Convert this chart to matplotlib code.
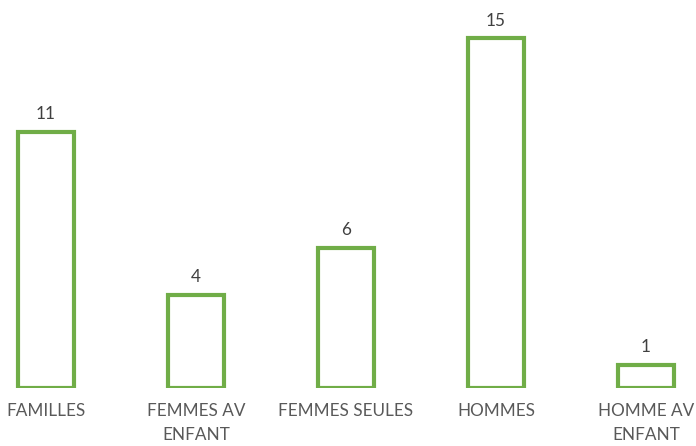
import matplotlib.pyplot as plt

categories = ['FAMILLES', 'FEMMES AV\nENFANT', 'FEMMES SEULES', 'HOMMES', 'HOMME AV\nENFANT']
counts = [11, 4, 6, 15, 1]

plt.rcParams['font.family'] = ['Lato', 'DejaVu Sans']

fig = plt.figure(figsize=(6.96, 4.46), dpi=100)
ax = fig.add_axes([0, 58 / 446, 1, 388 / 446])

x = list(range(len(categories)))
bars = ax.bar(x, counts, width=0.373, facecolor='white', edgecolor='#70AD47', linewidth=3)
ax.bar_label(bars, padding=7, fontsize=12.3, color='#404040')

ax.set_xlim(-0.307, 4.333)
ax.set_ylim(0, 16.65)
ax.set_xticks(x)
ax.set_xticklabels(categories, fontsize=12.3, color='#595959', linespacing=1.6)
ax.tick_params(axis='x', length=0, pad=11)
ax.set_yticks([])
for s in ax.spines.values():
    s.set_visible(False)

fig.savefig('out.png', dpi=100)
